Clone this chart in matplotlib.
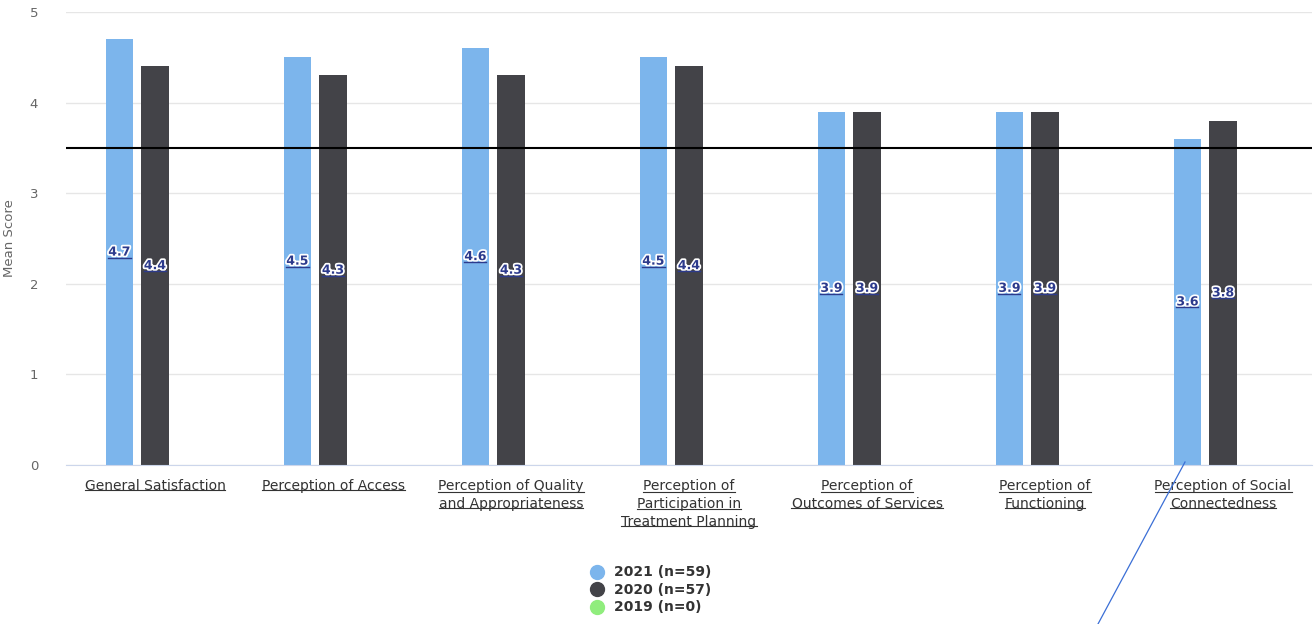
import numpy as np
import matplotlib.pyplot as plt
import matplotlib.patheffects as pe
from matplotlib.lines import Line2D

categories = [
    "General Satisfaction",
    "Perception of Access",
    "Perception of Quality\nand Appropriateness",
    "Perception of\nParticipation in\nTreatment Planning",
    "Perception of\nOutcomes of Services",
    "Perception of\nFunctioning",
    "Perception of Social\nConnectedness",
]
series_names = ["2021 (n=59)", "2020 (n=57)", "2019 (n=0)"]
vals_2021 = [4.7, 4.5, 4.6, 4.5, 3.9, 3.9, 3.6]
vals_2020 = [4.4, 4.3, 4.3, 4.4, 3.9, 3.9, 3.8]
vals_2019 = [0, 0, 0, 0, 0, 0, 0]
threshold = 3.5

colors = ["#7cb5ec", "#434348", "#90ed7d"]

fig = plt.figure(figsize=(13.15, 6.24), dpi=100)
ax = fig.add_axes([66 / 1315, 159 / 624, 1246 / 1315, 453 / 624])

x = np.arange(len(categories))
w = 0.152
offs = [-0.2, 0.0, 0.2]
all_vals = [vals_2021, vals_2020, vals_2019]

ax.set_xlim(-0.5, len(categories) - 0.5)
ax.set_ylim(0, 5)
ax.set_yticks([0, 1, 2, 3, 4, 5])
ax.grid(axis="y", color="#e6e6e6", lw=1)
ax.set_axisbelow(True)
for s in ["top", "right", "left"]:
    ax.spines[s].set_visible(False)
ax.spines["bottom"].set_color("#ccd6eb")
ax.tick_params(axis="y", length=0, labelsize=9.5, labelcolor="#666666", pad=20)
ax.tick_params(axis="x", length=0, labelsize=10, labelcolor="#333333", pad=10)
ax.set_ylabel("Mean Score", color="#666666", fontsize=9.5, labelpad=10)

labels = []
for vals, off, c, name in zip(all_vals, offs, colors, series_names):
    ax.bar(x + off, vals, width=w, color=c, label=name, zorder=2)
    for xi, v in zip(x, vals):
        if v > 0:
            t = ax.text(xi + off, v / 2, f"{v:.1f}", ha="center", va="center",
                        fontsize=9, fontweight="bold", color="#2c3a8c", zorder=4,
                        path_effects=[pe.withStroke(linewidth=2.5, foreground="white")])
            labels.append(t)

ax.axhline(threshold, color="black", lw=1.5, zorder=3)

ax.set_xticks(x)
ax.set_xticklabels(categories, linespacing=1.35)

leg = fig.legend(loc="upper center", frameon=False,
                 handles=[Line2D([], [], marker="o", ls="", ms=10, color=c) for c in colors],
                 labels=series_names, fontsize=10, labelspacing=0.25, handletextpad=0.7,
                 handlelength=1.0)
leg.set_bbox_to_anchor((0.495, 1 - 553 / 624), transform=fig.transFigure)
for t in leg.get_texts():
    t.set_color("#333333")
    t.set_fontweight("bold")

# underline tick labels and data labels (link style)
fig.canvas.draw()
r = fig.canvas.get_renderer()
inv = fig.transFigure.inverted()
for t in ax.get_xticklabels():
    lines = t.get_text().split("\n")
    bb = t.get_window_extent(r)
    n = len(lines)
    lh = bb.height / n
    fp = t.get_fontproperties()
    for i, ln in enumerate(lines):
        lw_px, _, _ = r.get_text_width_height_descent(ln, fp, ismath=False)
        cx = (bb.x0 + bb.x1) / 2
        yb = bb.y1 - (i + 1) * lh + 3
        p0 = inv.transform((cx - lw_px / 2, yb))
        p1 = inv.transform((cx + lw_px / 2, yb))
        fig.add_artist(Line2D([p0[0], p1[0]], [p0[1], p1[1]], color="#333333", lw=0.8))
for t in labels:
    bb = t.get_window_extent(r)
    p0 = inv.transform((bb.x0, bb.y0 + 1))
    p1 = inv.transform((bb.x1, bb.y0 + 1))
    fig.add_artist(Line2D([p0[0], p1[0]], [p0[1], p1[1]], color="#2c3a8c", lw=1, zorder=5))

# hand-drawn pointer line
fig.add_artist(Line2D([1185 / 1315, 1098 / 1315], [1 - 462 / 624, 0], color="#3b6fd6", lw=0.9))

fig.savefig("out.png", dpi=100)
